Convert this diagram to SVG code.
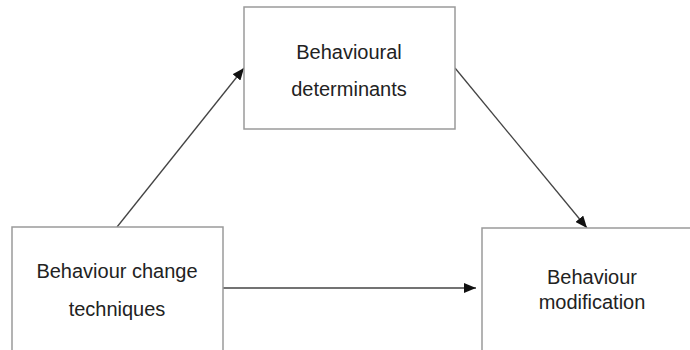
<svg xmlns="http://www.w3.org/2000/svg" width="690" height="350" viewBox="0 0 690 350">
<style>
.box{fill:#fff;stroke:#9a9a9a;stroke-width:1.5}
.t{font-family:"Liberation Sans",Arial,sans-serif;font-size:20px;fill:#222;text-anchor:middle}
.c{stroke:#444;stroke-width:1.3;fill:none;marker-end:url(#ah)}
</style>
<defs>
<marker id="ah" viewBox="0 0 12 10" refX="12" refY="5" markerWidth="12" markerHeight="10" markerUnits="userSpaceOnUse" orient="auto">
<path d="M0,0 L12,5 L0,10 Z" fill="#111"/>
</marker>
</defs>
<rect width="690" height="350" fill="#fff"/>
<g id="connectors">
<line class="c" x1="117" y1="227" x2="244" y2="68"/>
<line class="c" x1="455" y1="68" x2="587" y2="228"/>
<line class="c" x1="223" y1="288" x2="476" y2="288"/>
</g>
<g id="determinants">
<rect class="box" x="244" y="7" width="211" height="122"/>
<text class="t" x="349" y="59">Behavioural</text>
<text class="t" x="349" y="96">determinants</text>
</g>
<g id="techniques">
<rect class="box" x="12" y="227" width="211" height="130"/>
<text class="t" x="117" y="278">Behaviour change</text>
<text class="t" x="117" y="316">techniques</text>
</g>
<g id="modification">
<rect class="box" x="482" y="228" width="220" height="130"/>
<text class="t" x="592" y="284">Behaviour</text>
<text class="t" x="592" y="309">modification</text>
</g>
</svg>
